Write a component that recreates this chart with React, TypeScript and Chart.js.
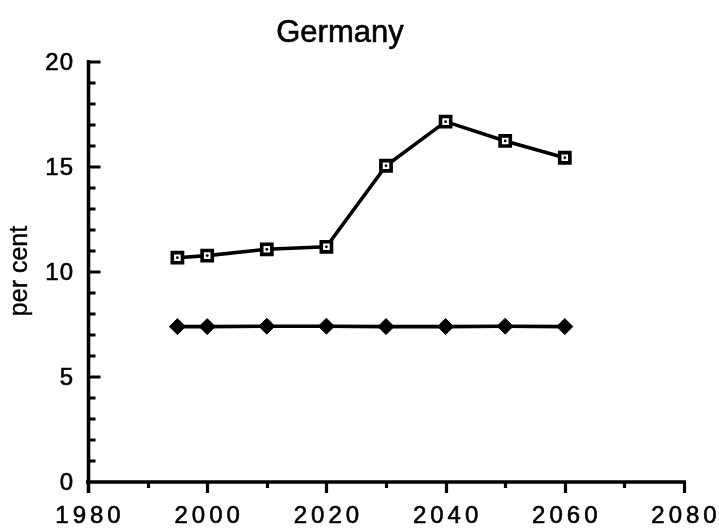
import { useEffect, useRef } from "react";
import { Chart, registerables } from "chart.js";

Chart.register(...registerables);

// Projection years and the two series (per cent)
const years = [1995, 2000, 2010, 2020, 2030, 2040, 2050, 2060];
const squareSeries = [10.68, 10.78, 11.08, 11.2, 15.06, 17.16, 16.24, 15.44];
const diamondSeries = [7.4, 7.4, 7.42, 7.42, 7.4, 7.4, 7.42, 7.4];

// Axis ranges and tick labels
const xMin = 1980;
const xMax = 2080;
const xLabelTicks = [1980, 2000, 2020, 2040, 2060, 2080];
const xMinorStep = 10;
const yMin = 0;
const yMax = 20;
const yLabelTicks = [0, 5, 10, 15, 20];
const yMinorStep = 1;

const titleText = "Germany";
const yAxisTitle = "per cent";

const FONT = '"Liberation Sans", Arial, Helvetica, sans-serif';

// Filled text with a thin outline, for slightly heavier glyphs
function heavyText(ctx: CanvasRenderingContext2D, text: string, x: number, y: number, weight: number) {
  ctx.fillText(text, x, y);
  ctx.lineWidth = weight;
  ctx.strokeText(text, x, y);
}

const axesPlugin = {
  id: "classicAxes",
  beforeDatasetsDraw(chart: any) {
    const { ctx, scales } = chart;
    const xs = scales.x;
    const ys = scales.y;
    const left = xs.getPixelForValue(xMin);
    const right = xs.getPixelForValue(xMax);
    const bottom = ys.getPixelForValue(yMin);
    const top = ys.getPixelForValue(yMax);
    const axisX = left + 0.5;

    ctx.save();
    ctx.strokeStyle = "#000";
    ctx.lineCap = "butt";
    ctx.lineWidth = 3.6;

    // axis lines
    ctx.beginPath();
    ctx.moveTo(axisX, top - 2);
    ctx.lineTo(axisX, bottom + 11);
    ctx.moveTo(left - 2, bottom);
    ctx.lineTo(right + 2, bottom);
    ctx.stroke();

    // y ticks pointing into the plot
    ctx.lineWidth = 3.2;
    ctx.beginPath();
    for (let v = yMin + yMinorStep; v <= yMax; v += yMinorStep) {
      const py = Math.round(ys.getPixelForValue(v));
      const len = yLabelTicks.includes(v) ? 12 : 7;
      ctx.moveTo(axisX, py);
      ctx.lineTo(axisX + len, py);
    }
    ctx.stroke();

    // x ticks pointing down
    ctx.beginPath();
    for (let v = xMin + xMinorStep; v <= xMax; v += xMinorStep) {
      const px = Math.round(xs.getPixelForValue(v)) + 0.5;
      const len = xLabelTicks.includes(v) ? 11 : 6;
      ctx.moveTo(px, bottom);
      ctx.lineTo(px, bottom + len);
    }
    ctx.stroke();

    ctx.fillStyle = "#000";

    // y tick labels
    ctx.font = `24px ${FONT}`;
    (ctx as any).letterSpacing = "1px";
    ctx.textAlign = "right";
    ctx.textBaseline = "middle";
    for (const v of yLabelTicks) {
      heavyText(ctx, String(v), left - 14, ys.getPixelForValue(v) + 1, 0.6);
    }

    // x tick labels
    (ctx as any).letterSpacing = "4px";
    ctx.textAlign = "center";
    ctx.textBaseline = "alphabetic";
    for (const v of xLabelTicks) {
      heavyText(ctx, String(v), xs.getPixelForValue(v) + 2, bottom + 41, 0.6);
    }

    // title
    (ctx as any).letterSpacing = "0px";
    ctx.font = `31px ${FONT}`;
    ctx.textAlign = "center";
    heavyText(ctx, titleText, 340, 42, 0.6);

    // y axis title
    ctx.font = `25px ${FONT}`;
    ctx.translate(27, (top + bottom) / 2 - 1);
    ctx.rotate(-Math.PI / 2);
    ctx.textAlign = "center";
    ctx.textBaseline = "alphabetic";
    heavyText(ctx, yAxisTitle, 0, 0, 0.4);

    ctx.restore();
  },
};

export default function App() {
  const canvasRef = useRef<HTMLCanvasElement | null>(null);

  useEffect(() => {
    const canvas = canvasRef.current;
    if (!canvas) return;
    const chart = new Chart(canvas, {
      type: "line",
      data: {
        datasets: [
          {
            label: "centre dots",
            data: years.map((x, i) => ({ x, y: squareSeries[i] })),
            showLine: false,
            pointStyle: "circle",
            pointRadius: 1.4,
            pointBorderWidth: 0,
            pointBackgroundColor: "#000",
            borderColor: "#000",
            order: -1,
          },
          {
            label: "squares",
            data: years.map((x, i) => ({ x, y: squareSeries[i] })),
            borderColor: "#000",
            borderWidth: 3.6,
            pointStyle: "rect",
            pointRadius: 7.2,
            pointBorderWidth: 3.6,
            pointBorderColor: "#000",
            pointBackgroundColor: "#fff",
            tension: 0,
            order: 1,
          },
          {
            label: "diamonds",
            data: years.map((x, i) => ({ x, y: diamondSeries[i] })),
            borderColor: "#000",
            borderWidth: 3.6,
            pointStyle: "rectRot",
            pointRadius: 8,
            pointBorderWidth: 1,
            pointBorderColor: "#000",
            pointBackgroundColor: "#000",
            tension: 0,
            order: 2,
          },
        ],
      },
      options: {
        animation: false,
        responsive: false,
        devicePixelRatio: 1,
        layout: { padding: { left: 88, right: 35, top: 62, bottom: 47 } },
        scales: {
          x: { type: "linear", min: xMin, max: xMax, display: false },
          y: { type: "linear", min: yMin, max: yMax, display: false },
        },
        plugins: {
          legend: { display: false },
          tooltip: { enabled: false },
          title: { display: false },
        },
        elements: { point: { hitRadius: 0, hoverRadius: 0 } },
      },
      plugins: [axesPlugin],
    });
    return () => chart.destroy();
  }, []);

  return (
    <div style={{ position: "absolute", left: 0, top: 0, width: 719, height: 529, background: "#fff" }}>
      <canvas ref={canvasRef} width={719} height={529} />
    </div>
  );
}
